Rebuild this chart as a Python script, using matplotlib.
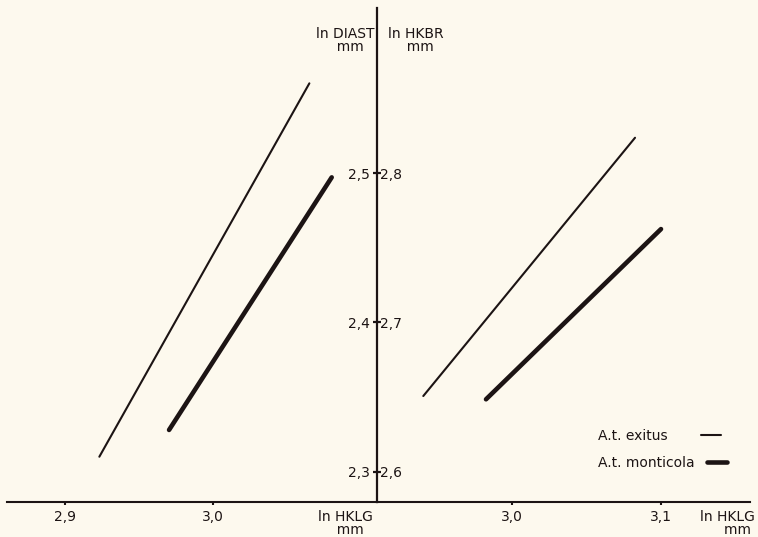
import matplotlib
matplotlib.use("Agg")
import matplotlib.pyplot as plt

# values
names = ["A.t. exitus", "A.t. monticola"]

# left panel: ln DIAST against ln HKLG
left_thin_x = [2.9232, 3.0651]
left_thin_y = [2.3102, 2.5600]
left_thick_x = [2.9703, 3.0802]
left_thick_y = [2.3281, 2.4971]

# right panel: ln HKBR against ln HKLG
right_thin_x = [2.9408, 3.0826]
right_thin_y = [2.6508, 2.8236]
right_thick_x = [2.9828, 3.1000]
right_thick_y = [2.6486, 2.7625]

left_xticks = [2.9, 3.0]
left_xlabels = ["2,9", "3,0"]
right_xticks = [3.0, 3.1]
right_xlabels = ["3,0", "3,1"]
diast_ticks = [2.3, 2.4, 2.5]
diast_labels = ["2,3", "2,4", "2,5"]
hkbr_ticks = [2.6, 2.7, 2.8]
hkbr_labels = ["2,6", "2,7", "2,8"]

bg = "#fdf9ee"
ink = "#1c1414"
W, H = 758, 537

plt.rcParams['font.family'] = ['DejaVu Sans']
plt.rcParams['font.size'] = 10

fig = plt.figure(figsize=(W / 100, H / 100), dpi=100, facecolor=bg)

def fx(px):
    return px / W

def fy(py):
    return 1 - py / H

bottom = fy(502)
height = (502 - 8) / H
ax_l = fig.add_axes([fx(7), bottom, (377 - 7) / W, height])
ax_r = fig.add_axes([fx(377), bottom, (750 - 377) / W, height])

ax_l.set_xlim(2.8608, 3.1108)
ax_r.set_xlim(2.9098, 3.1596)
ax_l.set_ylim(2.2799, 2.6104)
ax_r.set_ylim(2.2799 + 0.3, 2.6104 + 0.3)

for ax in (ax_l, ax_r):
    ax.set_facecolor("none")
    for s in ax.spines.values():
        s.set_visible(False)
        s.set_color(ink)
    ax.spines['bottom'].set_visible(True)
    ax.spines['bottom'].set_linewidth(1.5)
    ax.tick_params(axis='x', direction='out', length=2.5, width=1.5,
                   color=ink, labelcolor=ink, pad=3.5, labelsize=10)

ax_l.spines['right'].set_visible(True)
ax_l.spines['right'].set_linewidth(1.6)

ax_l.set_xticks(left_xticks, labels=left_xlabels)
ax_r.set_xticks(right_xticks, labels=right_xlabels)
ax_r.set_yticks([])

# cross ticks on the middle axis
ax_l.yaxis.tick_right()
ax_l.set_yticks(diast_ticks)
ax_l.tick_params(axis='y', direction='inout', length=6, width=1.6,
                 color=ink, labelright=False, labelleft=False)

sec_hkbr = ax_l.secondary_yaxis(1.0, functions=(lambda v: v + 0.3, lambda v: v - 0.3))
sec_hkbr.set_yticks(hkbr_ticks, labels=hkbr_labels)
sec_hkbr.tick_params(length=0, pad=2.5, labelcolor=ink, labelsize=10)
for s in sec_hkbr.spines.values():
    s.set_visible(False)

sec_diast = ax_l.secondary_yaxis(1.0)
sec_diast.set_alignment('left')
sec_diast.set_yticks(diast_ticks, labels=diast_labels)
sec_diast.tick_params(length=0, pad=5, labelcolor=ink, labelsize=10)
for s in sec_diast.spines.values():
    s.set_visible(False)

thin_lw = 1.5
thick_lw = 3.3
ax_l.plot(left_thin_x, left_thin_y, color=ink, lw=thin_lw, solid_capstyle='round')
ax_l.plot(left_thick_x, left_thick_y, color=ink, lw=thick_lw, solid_capstyle='round')
thin_r, = ax_r.plot(right_thin_x, right_thin_y, color=ink, lw=thin_lw, solid_capstyle='round')
thick_r, = ax_r.plot(right_thick_x, right_thick_y, color=ink, lw=thick_lw, solid_capstyle='round')

leg1 = ax_r.legend(handles=[thin_r], labels=[names[0]], loc='center left',
                   bbox_to_anchor=(fx(598), fy(436)), bbox_transform=fig.transFigure,
                   frameon=False, markerfirst=False, handlelength=1.44,
                   handletextpad=2.4, borderpad=0, borderaxespad=0, fontsize=10)
for t in leg1.get_texts():
    t.set_color(ink)
ax_r.add_artist(leg1)
leg2 = ax_r.legend(handles=[thick_r], labels=[names[1]], loc='center left',
                   bbox_to_anchor=(fx(598), fy(463)), bbox_transform=fig.transFigure,
                   frameon=False, markerfirst=False, handlelength=1.44,
                   handletextpad=0.9, borderpad=0, borderaxespad=0, fontsize=10)
for t in leg2.get_texts():
    t.set_color(ink)

# axis titles, unit on a second line
fig.text(fx(375), fy(51), "ln DIAST\n  mm", ha='right', va='baseline',
         multialignment='center', linespacing=0.95, color=ink)
fig.text(fx(388), fy(51), "ln HKBR\n  mm", ha='left', va='baseline',
         multialignment='center', linespacing=0.95, color=ink)
fig.text(fx(373), fy(534), "ln HKLG\n  mm", ha='right', va='baseline',
         multialignment='center', linespacing=0.95, color=ink)
fig.text(fx(755), fy(534), "ln HKLG\nmm ", ha='right', va='baseline',
         multialignment='right', linespacing=0.95, color=ink)

fig.savefig("out.png", dpi=100, facecolor=fig.get_facecolor())
plt.close(fig)
